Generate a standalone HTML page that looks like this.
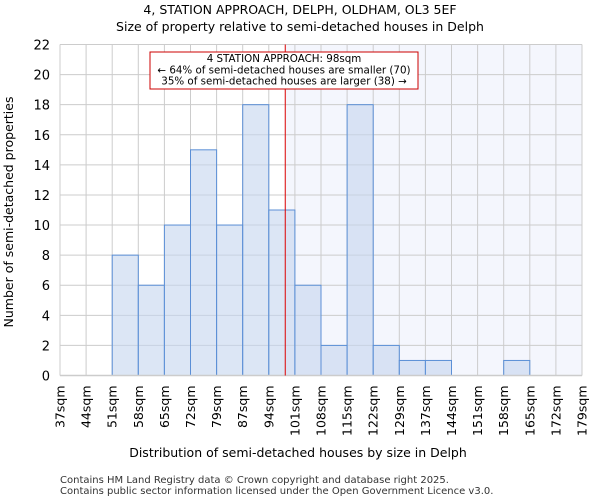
<!DOCTYPE html>
<html><head><meta charset="utf-8"><style>
body{margin:0;background:#fff;font-family:"DejaVu Sans","Liberation Sans",sans-serif}
</style></head><body>
<svg id="chart" width="600" height="500" xmlns="http://www.w3.org/2000/svg" font-family="DejaVu Sans, Liberation Sans, sans-serif">
<text x="300" y="14" text-anchor="middle" font-size="12.5">4, STATION APPROACH, DELPH, OLDHAM, OL3 5EF</text>
<text x="300" y="31" text-anchor="middle" font-size="12.5">Size of property relative to semi-detached houses in Delph</text>
<g id="plot"></g>
<text x="298" y="457" text-anchor="middle" font-size="12.5">Distribution of semi-detached houses by size in Delph</text>
<text transform="translate(13,212) rotate(-90)" text-anchor="middle" font-size="12.5">Number of semi-detached properties</text>
<text x="60" y="483" font-size="10" fill="#333">Contains HM Land Registry data © Crown copyright and database right 2025.</text>
<text x="60" y="494" font-size="10" fill="#333">Contains public sector information licensed under the Open Government Licence v3.0.</text>
</svg>
<script>
const edgeLabels=["37sqm","44sqm","51sqm","58sqm","65sqm","72sqm","79sqm","87sqm","94sqm","101sqm","108sqm","115sqm","122sqm","129sqm","137sqm","144sqm","151sqm","158sqm","165sqm","172sqm","179sqm"];
const counts=[0,0,8,6,10,15,10,18,11,6,2,18,2,1,1,0,0,1,0,0];
const yTicks=[0,2,4,6,8,10,12,14,16,18,20,22];
const subjectBin=8.63;
const L=60,R=582,T=44.5,B=375.5,YMAX=22;
const bw=(R-L)/counts.length;
const x=i=>L+i*bw;
const y=v=>B-(v/YMAX)*(B-T);
const NS="http://www.w3.org/2000/svg";
const g=document.getElementById('plot');
function mk(t,a){const e=document.createElementNS(NS,t);for(const k in a)e.setAttribute(k,a[k]);g.appendChild(e);return e;}
const xr=x(subjectBin);
let e=mk('rect',{x:xr,y:T,width:R-xr,height:B-T,fill:'#f4f6fd'});


yTicks.forEach(v=>{
 let l=mk('line',{x1:L,x2:R,y1:y(v),y2:y(v),stroke:'#cccccc','stroke-width':1});
 
 
 let t=mk('text',{x:L-10,y:y(v)+5,'text-anchor':'end','font-size':13});
 t.textContent=v;
 
 
});
edgeLabels.forEach((s,i)=>{
 let l=mk('line',{x1:x(i),x2:x(i),y1:T,y2:B,stroke:'#cccccc','stroke-width':1});
 
 
 let t=mk('text',{transform:`translate(${x(i)+4.5},${B+10}) rotate(-90)`,'text-anchor':'end','font-size':12.5});
 t.textContent=s;
 
 
});
counts.forEach((c,i)=>{
 if(!c)return;
 let r=mk('rect',{x:x(i),y:y(c),width:bw,height:B-y(c),fill:'rgba(196,213,238,0.6)',stroke:'#5b8fd6','stroke-width':1});
 
 
});
let ax=mk('line',{x1:L,x2:R,y1:B,y2:B,stroke:'#cccccc','stroke-width':1.5});


let rl=mk('line',{x1:xr,x2:xr,y1:T,y2:B,stroke:'#dd0000','stroke-width':1});


let box=mk('rect',{x:150,y:52,width:268,height:37,fill:'#fff',stroke:'#cc0000','stroke-width':1});


["4 STATION APPROACH: 98sqm","← 64% of semi-detached houses are smaller (70)","35% of semi-detached houses are larger (38) →"].forEach((s,i)=>{
 let t=mk('text',{x:284,y:62+i*11.3,'text-anchor':'middle','font-size':10.3});
 t.textContent=s;
 
 
});
</script>
</body></html>
